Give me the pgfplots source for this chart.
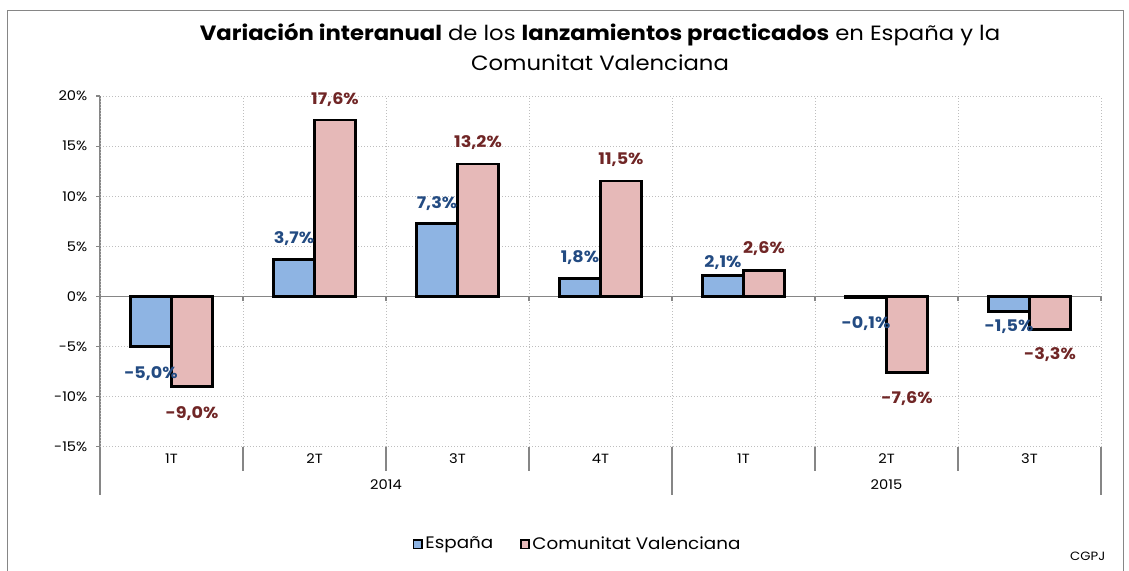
\documentclass[border=0pt]{standalone}
\usepackage{fontspec}
\setmainfont{Poppins}[FakeStretch=1.1]
\usepackage{pgfplots}
\usepackage{pgfplotstable}
\pgfplotsset{compat=1.18}
\definecolor{esp}{RGB}{142,180,227}
\definecolor{cv}{RGB}{230,185,184}
\definecolor{esptxt}{RGB}{35,75,130}
\definecolor{cvtxt}{RGB}{112,38,38}
\definecolor{axgray}{RGB}{134,134,134}
\definecolor{grgray}{RGB}{190,190,190}
\pgfplotsset{ybar legend/.style={legend image code/.code={\draw[##1, draw=black, line width=1.2pt] (0.6pt,-3.2pt) rectangle (6.8pt,3.2pt);}}}

\pgfplotstableread{
x y off lab
0 -5.0 -20.25 -5,0
1 3.7 15.75 3,7
2 7.3 15 7,3
3 1.8 15.75 1,8
4 2.1 9.75 2,1
5 -0.1 -19.5 -0,1
6 -1.5 -11.25 -1,5
}\espdata

\pgfplotstableread{
x y off lab
0 -9.0 -20.25 -9,0
1 17.6 15.75 17,6
2 13.2 16.5 13,2
3 11.5 16.5 11,5
4 2.6 16.5 2,6
5 -7.6 -19.5 -7,6
6 -3.3 -18.75 -3,3
}\cvdata

\begin{document}
\begin{tikzpicture}
\useasboundingbox (0,0) rectangle (846.75pt,428.25pt);
\draw[axgray, line width=0.75pt] (5.25pt,-2pt) -- (5.25pt,420pt) -- (842.25pt,420pt) -- (842.25pt,-2pt);
\node[align=center, font=\fontsize{15.5}{22.5}\selectfont] at (450pt,393pt)
  {\textbf{Variación interanual} de los \textbf{lanzamientos practicados} en España y la\\Comunitat Valenciana};
\node[anchor=east, font=\fontsize{9}{11}\selectfont] at (832.5pt,11pt) {CGPJ};
\begin{axis}[
  at={(75pt,93.2pt)}, anchor=south west,
  width=750.75pt, height=263pt, scale only axis,
  xmin=-0.5, xmax=6.5, ymin=-15, ymax=20,
  axis lines*=left,
  x axis line style={draw=none},
  y axis line style={axgray, line width=0.9pt},
  tick align=outside,
  xtick={0,...,6},
  xticklabels={1T,2T,3T,4T,1T,2T,3T},
  major x tick style={draw=none},
  minor xtick={0.5,1.5,2.5,4.5,5.5},
  minor tick length=18pt,
  minor x tick style={axgray, line width=0.9pt},
  extra x ticks={-0.5,3.5,6.5},
  extra x tick labels={},
  extra x tick style={major tick length=36pt, major x tick style={draw=axgray, line width=0.9pt}, grid=major},
  ytick={-15,-10,...,20},
  major tick length=3pt,
  major y tick style={axgray, line width=0.9pt},
  yticklabel={\pgfmathprintnumber{\tick}\%},
  /pgf/number format/assume math mode=true,
  ticklabel style={font=\fontsize{10}{12}\selectfont},
  xticklabel style={anchor=center, yshift=-6pt},
  yticklabel style={xshift=-3pt},
  ymajorgrids=true, xminorgrids=true,
  major grid style={grgray, line width=0.75pt, dash pattern=on 0.75pt off 1.5pt},
  minor grid style={grgray, line width=0.75pt, dash pattern=on 0.75pt off 1.5pt},
  extra y ticks={0}, extra y tick labels={},
  extra y tick style={major grid style={solid, axgray, line width=0.9pt}, major tick length=3pt},
  ybar=0pt, bar width=0.2867,
  nodes near coords={\pgfplotspointmeta\%},
  point meta=explicit symbolic,
  legend style={legend columns=2, draw=none, fill=none, at={(0.4775,-0.2775)}, anchor=center,
    font=\fontsize{12.5}{14}\selectfont, /tikz/every even column/.append style={column sep=18pt}},
  after end axis/.code={
    \foreach \i in {0.5,1.5,...,6.5} \draw[axgray, line width=0.9pt] (axis cs:\i,0) -- ++(0,-3.5pt);
    \node[font=\fontsize{10}{12}\selectfont] at (axis cs:1.5,-15) [yshift=-28.5pt] {2014};
    \node[font=\fontsize{10}{12}\selectfont] at (axis cs:5,-15) [yshift=-28.5pt] {2015};
  },
]
\addplot[fill=esp, draw=black, line width=1.8pt,
  visualization depends on={\thisrow{off}\as\off},
  every node near coord/.append style={anchor=center, yshift=\off pt, text=esptxt, font=\fontsize{12}{14}\selectfont\bfseries}]
  table[x=x, y=y, meta=lab] {\espdata};
\addplot[fill=cv, draw=black, line width=1.8pt,
  visualization depends on={\thisrow{off}\as\off},
  every node near coord/.append style={anchor=center, yshift=\off pt, text=cvtxt, font=\fontsize{12}{14}\selectfont\bfseries}]
  table[x=x, y=y, meta=lab] {\cvdata};
\legend{España, Comunitat Valenciana}
\end{axis}
\end{tikzpicture}
\end{document}
